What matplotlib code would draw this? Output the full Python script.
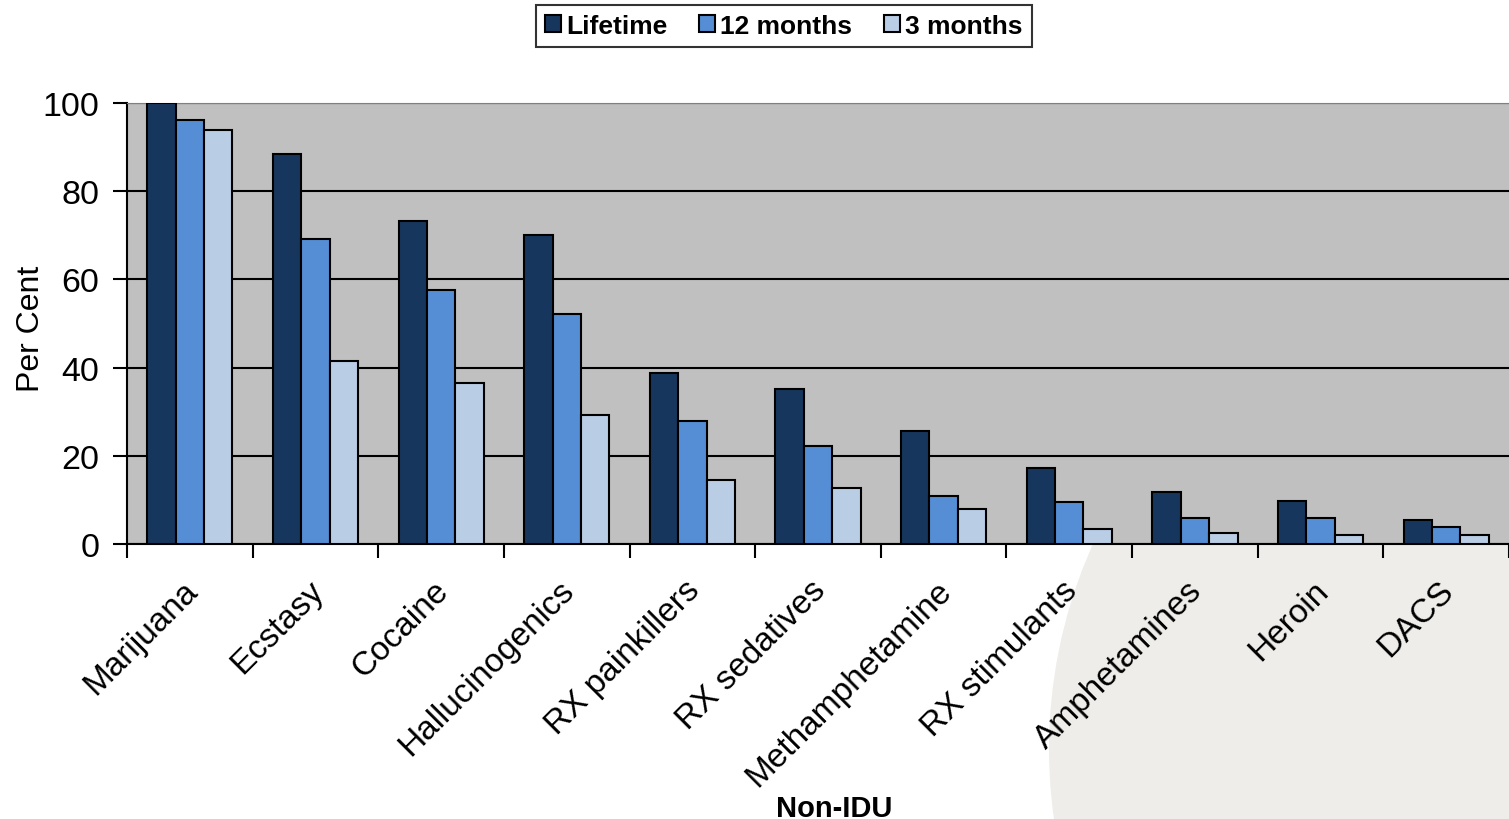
import numpy as np
import matplotlib
matplotlib.use("Agg")
import matplotlib.pyplot as plt
from matplotlib.patches import Circle
from matplotlib.transforms import IdentityTransform, ScaledTranslation

plt.rcParams['font.family'] = ['Liberation Sans', 'DejaVu Sans']

# Daten
drugs = ['Marijuana', 'Ecstasy', 'Cocaine', 'Hallucinogenics', 'RX painkillers',
         'RX sedatives', 'Methamphetamine', 'RX stimulants', 'Amphetamines',
         'Heroin', 'DACS']
lifetime = [100, 88.4, 73.2, 70.1, 38.8, 35.1, 25.6, 17.2, 11.8, 9.8, 5.4]
months12 = [96.1, 69.2, 57.6, 52.2, 27.9, 22.2, 10.9, 9.5, 5.9, 5.9, 3.9]
months3 = [93.9, 41.5, 36.5, 29.3, 14.5, 12.7, 7.9, 3.4, 2.5, 2.0, 2.0]

fig = plt.figure(figsize=(15.09, 8.2), dpi=100)

# heller Kreis im Hintergrund (unten rechts)
circ = Circle((1549, 70), 500, transform=IdentityTransform(),
              facecolor='#eeede9', edgecolor='none', zorder=-1)
fig.add_artist(circ)

ax = fig.add_axes([0.0842, 0.3354, 0.9158, 0.5378])
ax.set_facecolor('#c0c0c0')

x = np.arange(len(drugs))
w = 0.226
ax.bar(x - w, lifetime, w, color='#17365d', edgecolor='black', linewidth=1.5, label='Lifetime', zorder=3)
ax.bar(x, months12, w, color='#558ed5', edgecolor='black', linewidth=1.5, label='12 months', zorder=3)
ax.bar(x + w, months3, w, color='#b9cde5', edgecolor='black', linewidth=1.5, label='3 months', zorder=3)

ax.set_ylim(0, 100)
ax.set_xlim(-0.5, len(drugs) - 0.53)
ax.set_yticks([0, 20, 40, 60, 80, 100])
ax.yaxis.grid(True, color='black', linewidth=1.5)
ax.set_axisbelow(True)
ax.tick_params(axis='y', labelsize=24.5, length=10, width=1.5, direction='out', pad=10)

# Striche zwischen den Kategorien, Beschriftung in der Mitte
ax.set_xticks(np.arange(len(drugs) + 1) - 0.5)
ax.set_xticklabels([])
ax.tick_params(axis='x', which='major', length=10, width=1.5, direction='out')
ax.set_xticks(x, minor=True)
ax.set_xticklabels(drugs, minor=True, rotation=45, ha='right', rotation_mode='anchor', fontsize=24)
ax.tick_params(axis='x', which='minor', length=0, pad=24)
shift = ScaledTranslation(-0.08, 0.03, fig.dpi_scale_trans)
for lab in ax.get_xticklabels(minor=True):
    lab.set_transform(lab.get_transform() + shift)

ax.spines['right'].set_visible(False)
ax.spines['top'].set_color('#808080')
ax.spines['left'].set_linewidth(1.5)
ax.spines['bottom'].set_linewidth(1.5)

ax.set_ylabel('Per Cent', fontsize=23)
ax.yaxis.set_label_coords(-0.059, 0.49)
fig.text(0.553, 0.004, 'Non-IDU', fontsize=21, fontweight='bold', ha='center')

leg = fig.legend(loc='upper center', bbox_to_anchor=(0.5195, 0.993), ncol=3, frameon=True,
                 fancybox=False, edgecolor='black', prop={'weight': 'bold', 'size': 19},
                 handlelength=0.6, handleheight=0.6, handletextpad=0.2,
                 columnspacing=1.2, borderpad=0.35, borderaxespad=0)
leg.get_frame().set_linewidth(1.5)

plt.savefig('out.png', dpi=100)
